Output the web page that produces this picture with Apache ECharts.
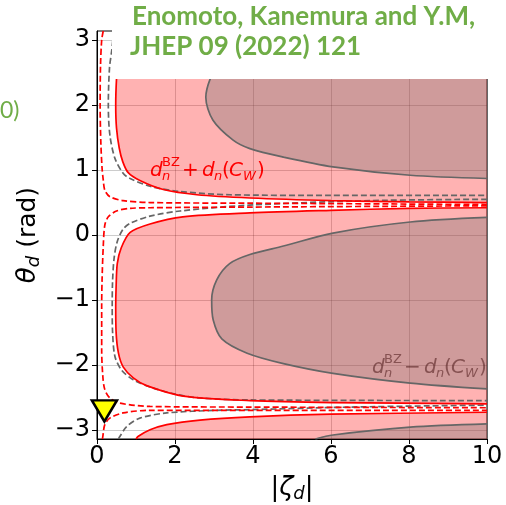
<!DOCTYPE html>
<html>
<head>
<meta charset="utf-8">
<script src="https://cdn.jsdelivr.net/npm/echarts/dist/echarts.min.js"></script>
<style>
  html, body { margin: 0; padding: 0; background: #fff; }
  #main { width: 506px; height: 505px; }
</style>
</head>
<body>
<div id="main"></div>
<script>
// ---- data: curves, [|zeta_d|, theta_d] ----
var PI = Math.PI;
var xTicks = [0, 2, 4, 6, 8, 10];
var yTicks = [-3, -2, -1, 0, 1, 2, 3];

// red solid = boundary of d_n^BZ + d_n(C_W) allowed region
var redUpper = [[0.62, 3.1416], [0.55, 2.8], [0.5, 2.4], [0.48, 2.0], [0.5, 1.65], [0.57, 1.34],
  [0.66, 1.13], [0.8, 0.96], [1.1, 0.84], [1.7, 0.7], [2.56, 0.62], [3.92, 0.57], [6, 0.53], [8, 0.51], [10, 0.50]];
var redMid = [[10, 0.42], [8, 0.41], [6, 0.38], [3.92, 0.34], [2.2, 0.28], [1.36, 0.17], [0.85, 0.04],
  [0.62, -0.2], [0.52, -0.44], [0.49, -0.8], [0.48, -1.1], [0.49, -1.5], [0.55, -1.82], [0.67, -2.03],
  [0.93, -2.2], [1.27, -2.32], [2.21, -2.48], [3.92, -2.55], [6, -2.58], [10, -2.60]];
var redBottom = [[1.0, -3.1416], [1.06, -3.1], [1.36, -3.0], [1.79, -2.92], [2.64, -2.85], [3.92, -2.8],
  [6, -2.76], [10, -2.73]];

// gray solid = boundary of d_n^BZ - d_n(C_W)
var grayUpper = [[3.6, 3.1416], [3.1, 2.6], [2.9, 2.4], [2.79, 2.12], [2.97, 1.77], [3.49, 1.46],
  [3.92, 1.33], [4.78, 1.2], [6.05, 1.05], [8.03, 0.92], [10, 0.87]];
var grayMid = [[10, 0.27], [8.03, 0.2], [6.05, 0.03], [4.78, -0.17], [3.92, -0.3], [3.4, -0.44],
  [3.07, -0.69], [2.94, -1.0], [2.98, -1.31], [3.2, -1.6], [3.85, -1.82], [4.78, -1.98],
  [6.05, -2.13], [8.03, -2.28], [10, -2.37]];
var grayBottom = [[5.6, -3.1416], [6.05, -3.08], [8.03, -2.96], [10, -2.91]];

// dashed contours
var redDashUpper = [[0.16, 3.1416], [0.12, 3.0], [0.09, 2.6], [0.08, 2.0], [0.1, 1.4], [0.13, 1.03],
  [0.16, 0.85], [0.2, 0.69], [0.33, 0.59], [0.67, 0.53], [1.36, 0.50], [3.9, 0.49], [10, 0.47]];
var redDashMid = [[10, 0.45], [3.9, 0.43], [1.36, 0.42], [0.85, 0.41], [0.5, 0.37], [0.29, 0.28],
  [0.2, 0.15], [0.16, -0.18], [0.13, -0.69], [0.12, -1.1], [0.12, -1.77], [0.15, -2.18], [0.2, -2.38],
  [0.33, -2.51], [0.59, -2.59], [1.36, -2.64], [3.9, -2.65], [10, -2.66]];
var redDashBottom = [[0.14, -3.1416], [0.15, -3.1], [0.2, -2.92], [0.33, -2.82], [0.67, -2.74],
  [1.36, -2.70], [3.9, -2.70], [10, -2.70]];
var grayDashUpper = [[0.43, 3.1416], [0.38, 2.85], [0.32, 2.57], [0.29, 2.0], [0.33, 1.54], [0.46, 1.18],
  [0.67, 0.95], [0.85, 0.87], [1.36, 0.75], [2.13, 0.67], [3.41, 0.62], [6, 0.61], [10, 0.61]];
var grayDashMid = [[10, 0.55], [7, 0.53], [3.9, 0.46], [2.13, 0.37], [1.36, 0.29], [0.85, 0.18],
  [0.67, 0.09], [0.52, -0.1], [0.44, -0.35], [0.40, -0.7], [0.39, -1.1], [0.40, -1.5], [0.46, -1.87],
  [0.63, -2.08], [0.93, -2.23], [1.36, -2.34], [2.0, -2.45], [2.64, -2.51], [3.92, -2.54], [10, -2.55]];
var grayDashBottom = [[0.55, -3.1416], [0.59, -3.1], [0.76, -2.95], [1.1, -2.82], [1.79, -2.74],
  [3.07, -2.70], [3.92, -2.69], [6.5, -2.65], [10, -2.62]];

var benchmark = [[0.19, -2.71]];

var myChart = echarts.init(document.getElementById('main'));

var PINK = 'rgba(255,0,0,0.3)';
var GRAYFILL = 'rgba(105,105,105,0.32)';
var GRAYLINE = '#666666';
var SMOOTH = 0.3;

// closing points lie outside the grid, so the clip hides them
function fillSeries(pts, color) {
  return {
    type: 'custom', silent: true, z: 1, clip: true,
    data: [[pts[0][0], pts[0][1]]],
    renderItem: function (params, api) {
      return {
        type: 'polygon',
        shape: { points: pts.map(function (p) { return api.coord(p); }), smooth: SMOOTH },
        style: { fill: color }
      };
    }
  };
}
function lineSeries(pts, color, dashed) {
  return {
    type: 'line', data: pts, showSymbol: false, silent: true, z: 3, smooth: SMOOTH,
    lineStyle: { color: color, width: 1.7, type: dashed ? [6, 3] : 'solid' }
  };
}

var font = 'DejaVu Sans';
function dnLabel(x, y, sign, color) {
  var it = 'italic 20px "' + font + '"', up = '20px "' + font + '"';
  var sIt = 'italic 13px "' + font + '"', sUp = '13px "' + font + '"';
  var parts = [
    ['d', 0, 0, it], ['BZ', 12, -8, sUp], ['n', 12, 6, sIt], [sign, 32, 0, up],
    ['d', 52, 0, it], ['n', 64, 6, sIt], ['(', 72, 0, up], ['C', 79, 0, it], ['W', 93, 6, sIt], [')', 107, 0, up]
  ];
  return {
    type: 'group', x: x, y: y, z: 110,
    children: parts.map(function (p) {
      return { type: 'text', x: p[1], y: p[2], style: { text: p[0], font: p[3], fill: color, verticalAlign: 'middle' } };
    })
  };
}

var nameRich = {
  it: { fontFamily: font, fontStyle: 'italic', fontSize: 26, lineHeight: 30 },
  sub: { fontFamily: font, fontStyle: 'italic', fontSize: 18, verticalAlign: 'bottom', lineHeight: 14 }
};

var option = {
  animation: false,
  grid: { left: 97, right: 19, top: 31, bottom: 66, outerBoundsMode: 'none', containLabel: false,
          show: true, borderColor: '#000', borderWidth: 1, backgroundColor: 'transparent' },
  xAxis: {
    type: 'value', min: 0, max: 10, interval: 2,
    name: '|{it|ζ}{sub|d}|', nameLocation: 'middle', nameGap: 34,
    nameTextStyle: { fontFamily: font, fontSize: 26, color: '#000', rich: nameRich },
    axisLine: { onZero: false, lineStyle: { color: '#000', width: 1 } },
    axisTick: { show: true, length: 5, lineStyle: { color: '#000' } },
    axisLabel: { fontFamily: font, fontSize: 24, color: '#000', margin: 6 },
    splitLine: { lineStyle: { color: 'rgba(0,0,0,0.2)', width: 1 } }
  },
  yAxis: {
    type: 'value', min: -PI, max: PI,
    name: '{it|θ}{sub|d} (rad)', nameLocation: 'middle', nameGap: 43, nameRotate: 90,
    nameTextStyle: { fontFamily: font, fontSize: 25, color: '#000', rich: nameRich },
    axisLine: { onZero: false, lineStyle: { color: '#000', width: 1 } },
    axisTick: { show: true, length: 5, customValues: yTicks, lineStyle: { color: '#000' } },
    axisLabel: {
      fontFamily: font, fontSize: 24, color: '#000', margin: 7, customValues: yTicks,
      formatter: function (v) { return v < 0 ? '\u2212' + (-v) : String(v); }
    },
    splitLine: { lineStyle: { color: 'rgba(0,0,0,0.2)', width: 1 } }
  },
  series: [
    fillSeries([[0.62, 4.5]].concat(redUpper, [[12, 0.50], [12, 4.5]]), PINK),
    fillSeries([[12, 0.42]].concat(redMid, [[12, -2.60]]), PINK),
    fillSeries([[0.93, -3.4]].concat(redBottom, [[12, -2.73], [12, -4.5]]), PINK),
    fillSeries([[3.9, 4.5]].concat(grayUpper, [[12, 0.87], [12, 4.5]]), GRAYFILL),
    fillSeries([[12, 0.27]].concat(grayMid, [[12, -2.37]]), GRAYFILL),
    fillSeries([[5.3, -3.4]].concat(grayBottom, [[12, -2.91], [12, -4.5]]), GRAYFILL),
    lineSeries(grayUpper, GRAYLINE, false),
    lineSeries(grayMid, GRAYLINE, false),
    lineSeries(grayBottom, GRAYLINE, false),
    lineSeries(grayDashUpper, GRAYLINE, true),
    lineSeries(grayDashMid, GRAYLINE, true),
    lineSeries(grayDashBottom, GRAYLINE, true),
    lineSeries(redDashUpper, '#ff0000', true),
    lineSeries(redDashMid, '#ff0000', true),
    lineSeries(redDashBottom, '#ff0000', true),
    lineSeries(redUpper, '#ff0000', false),
    lineSeries(redMid, '#ff0000', false),
    lineSeries(redBottom, '#ff0000', false),
    {
      type: 'scatter', data: benchmark, clip: false, z: 5, silent: true,
      symbol: 'triangle', symbolRotate: 180, symbolSize: [25, 21],
      itemStyle: { color: '#ffff00', borderColor: '#000', borderWidth: 2.5, opacity: 1 }
    }
  ],
  graphic: [
    { type: 'rect', x: 112, y: 0, z: 100, shape: { width: 394, height: 79 }, style: { fill: '#fff' } },
    { type: 'text', x: 132, y: 17, z: 110, style: { text: 'Enomoto, Kanemura and Y.M,', font: 'bold 26px Lato', fill: '#70ad47', verticalAlign: 'middle' } },
    { type: 'text', x: 130, y: 47, z: 110, style: { text: 'JHEP 09 (2022) 121', font: 'bold 26px Lato', fill: '#70ad47', verticalAlign: 'middle' } },
    { type: 'text', x: 0, y: 111, z: 110, style: { text: '0)', font: '23px Lato', fill: '#70ad47', verticalAlign: 'middle' } },
    dnLabel(150, 171, '+', '#ff0000'),
    dnLabel(372, 368, '\u2212', GRAYLINE)
  ]
};
myChart.setOption(option);
</script>
</body>
</html>
